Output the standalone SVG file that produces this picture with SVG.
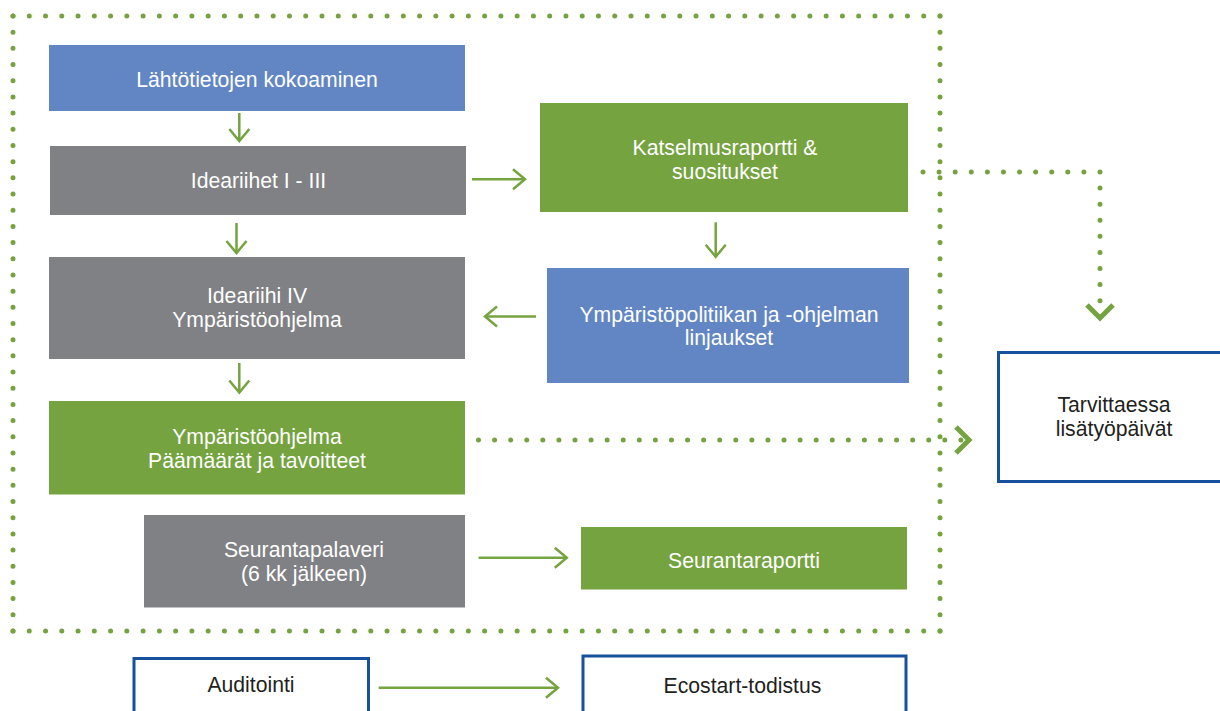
<svg xmlns="http://www.w3.org/2000/svg" width="1220" height="711" viewBox="0 0 1220 711">
<style>
  text { font-family: "Liberation Sans", Arial, sans-serif; font-size: 21.2px; text-anchor: middle; }
  .w { fill: #FFFFFF; }
  .d { fill: #231F20; }
  .blue { fill: #6286C4; }
  .gray { fill: #808184; }
  .green { fill: #74A33F; }
  .outline { fill: #FFFFFF; stroke: #17519E; stroke-width: 3; }
  .arrow { fill: none; stroke: #74A33F; stroke-width: 2.5; marker-end: url(#arr); }
  .dots { fill: none; stroke: #74A33F; stroke-width: 5; stroke-linecap: round; }
</style>
<defs>
  <marker id="arr" markerUnits="userSpaceOnUse" markerWidth="30" markerHeight="30" viewBox="-15 -15 30 30" refX="0" refY="0" orient="auto" overflow="visible">
    <path d="M-12,-10 L0,0 L-12,10" fill="none" stroke="#74A33F" stroke-width="2.5"/>
  </marker>
  <marker id="chev" markerUnits="userSpaceOnUse" markerWidth="40" markerHeight="40" viewBox="-20 -20 40 40" refX="0" refY="0" orient="auto" overflow="visible">
    <path d="M-13,-13 L0,0 L-13,13" fill="none" stroke="#74A33F" stroke-width="5"/>
  </marker>
</defs>
<rect width="1220" height="711" fill="#FFFFFF"/>

<g id="frame">
  <line class="dots" x1="13" y1="16" x2="940" y2="16" stroke-dasharray="0 16.263"/>
  <line class="dots" x1="13" y1="631" x2="940" y2="631" stroke-dasharray="0 16.263"/>
  <line class="dots" x1="13" y1="16" x2="13" y2="631" stroke-dasharray="0 16.184"/>
  <line class="dots" x1="940" y1="16" x2="940" y2="631" stroke-dasharray="0 16.184"/>
</g>

<g id="node-lahtotiedot">
  <rect class="blue" x="49" y="45" width="416" height="66"/>
  <text class="w" x="257" y="87.3">Lähtötietojen kokoaminen</text>
</g>
<g id="node-ideariihet">
  <rect class="gray" x="50" y="146" width="416" height="69"/>
  <text class="w" x="258.5" y="188.3">Ideariihet I - III</text>
</g>
<g id="node-katselmus">
  <rect class="green" x="540" y="103" width="368" height="109"/>
  <text class="w" x="725" y="155">Katselmusraportti &amp;</text>
  <text class="w" x="725" y="179.3">suositukset</text>
</g>
<g id="node-ideariihi4">
  <rect class="gray" x="49" y="257" width="416" height="102"/>
  <text class="w" x="257" y="302.7">Ideariihi IV</text>
  <text class="w" x="257" y="326.7">Ympäristöohjelma</text>
</g>
<g id="node-linjaukset">
  <rect class="blue" x="547" y="268" width="362" height="115"/>
  <text class="w" x="729" y="321.7">Ympäristöpolitiikan ja -ohjelman</text>
  <text class="w" x="729" y="345">linjaukset</text>
</g>
<g id="node-ymparistoohjelma">
  <rect class="green" x="49" y="401" width="416" height="93.5"/>
  <text class="w" x="257" y="444">Ympäristöohjelma</text>
  <text class="w" x="257" y="467.7">Päämäärät ja tavoitteet</text>
</g>
<g id="node-seurantapalaveri">
  <rect class="gray" x="144" y="515" width="321" height="92.5"/>
  <text class="w" x="304" y="556.7">Seurantapalaveri</text>
  <text class="w" x="304" y="580.5">(6 kk jälkeen)</text>
</g>
<g id="node-seurantaraportti">
  <rect class="green" x="581" y="527" width="326" height="62.5"/>
  <text class="w" x="744" y="568.3">Seurantaraportti</text>
</g>
<g id="node-tarvittaessa">
  <rect class="outline" x="998.5" y="352.5" width="232" height="129"/>
  <text class="d" x="1114" y="411.7">Tarvittaessa</text>
  <text class="d" x="1114" y="435.7">lisätyöpäivät</text>
</g>
<g id="node-auditointi">
  <rect class="outline" x="134" y="658.5" width="234.5" height="70"/>
  <text class="d" x="251" y="692">Auditointi</text>
</g>
<g id="node-ecostart">
  <rect class="outline" x="583" y="656" width="323" height="72"/>
  <text class="d" x="742.5" y="693.3">Ecostart-todistus</text>
</g>

<g id="connectors">
  <line class="arrow" x1="239.3" y1="113" x2="239.3" y2="141"/>
  <line class="arrow" x1="236.5" y1="223" x2="236.5" y2="253"/>
  <line class="arrow" x1="239.3" y1="363" x2="239.3" y2="392.5"/>
  <line class="arrow" x1="472" y1="179.3" x2="525" y2="179.3"/>
  <line class="arrow" x1="715.7" y1="222.3" x2="715.7" y2="256.7"/>
  <line class="arrow" x1="536" y1="316.5" x2="485" y2="316.5"/>
  <line class="arrow" x1="478.6" y1="557.7" x2="566.8" y2="557.7"/>
  <line class="arrow" x1="378.7" y1="687.7" x2="558" y2="687.7"/>
  <path class="dots" d="M923,172 H1100 V318" stroke-dasharray="0 16.09" marker-end="url(#chev)"/>
  <path class="dots" d="M478.5,440 H969" stroke-dasharray="0 16.08" marker-end="url(#chev)"/>
</g>
</svg>
